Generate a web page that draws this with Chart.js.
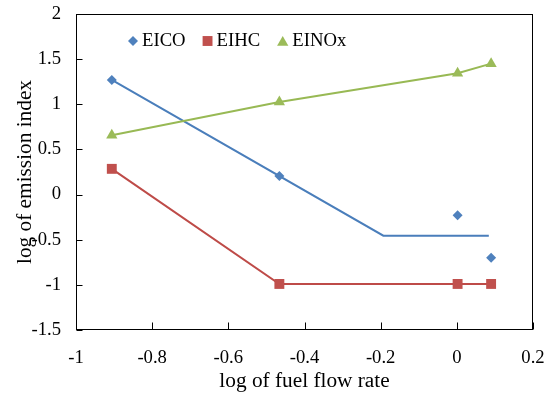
<!DOCTYPE html>
<html><head><meta charset="utf-8">
<script src="https://cdn.jsdelivr.net/npm/chart.js@4.4.1/dist/chart.umd.min.js"></script>
<style>html,body{margin:0;padding:0;background:#fff}#wrap{width:546px;height:398px}</style>
</head><body><div id="wrap"><canvas id="c" width="546" height="398"></canvas></div>
<script>
// ---- data ----
const xTickValues = [-1, -0.8, -0.6, -0.4, -0.2, 0, 0.2];
const yTickValues = [-1.5, -1, -0.5, 0, 0.5, 1, 1.5, 2];
const fuelFlowX = [-0.906, -0.466, 0.002, 0.09];
const eicoY = [1.27, 0.205, -0.23, -0.70];
const eihcY = [0.285, -0.99, -0.99, -0.99];
const einoxY = [0.657, 1.025, 1.343, 1.45];
const eicoFitX = [-0.906, -0.193, 0.084];
const eicoFitY = [1.27, -0.455, -0.455];
const seriesNames = ['EICO', 'EIHC', 'EINOx'];

const FONT = '"Liberation Serif", "Times New Roman", serif';
const pts = (xs, ys) => xs.map((x, i) => ({x: x, y: ys[i]}));

const datasets = [
  {label: 'EICO fit', data: pts(eicoFitX, eicoFitY), showLine: true, pointRadius: 0,
   borderColor: '#4A7EBB', borderWidth: 2, fill: false, order: 4},
  {label: seriesNames[1], data: pts(fuelFlowX, eihcY), showLine: true, pointStyle: 'rect', pointRadius: 7,
   backgroundColor: '#C0504D', pointBackgroundColor: '#C0504D', pointBorderColor: '#C0504D', pointBorderWidth: 0,
   borderColor: '#BE4B48', borderWidth: 2, order: 2},
  {label: seriesNames[2], data: pts(fuelFlowX, einoxY), showLine: true, pointStyle: 'triangle', pointRadius: 6.5,
   backgroundColor: '#9BBB59', pointBackgroundColor: '#9BBB59', pointBorderColor: '#9BBB59', pointBorderWidth: 0,
   borderColor: '#98B954', borderWidth: 2, order: 3},
  {label: seriesNames[0], data: pts(fuelFlowX, eicoY), showLine: false, pointStyle: 'rectRot', pointRadius: 5,
   backgroundColor: '#4F81BD', pointBackgroundColor: '#4F81BD', pointBorderColor: '#4F81BD', pointBorderWidth: 0,
   order: 1}
];
const legendOrder = [3, 1, 2];

const framePlugin = {
  id: 'frame',
  afterDatasetsDraw(chart) {
    const {ctx, chartArea: a, scales} = chart;
    ctx.save();
    ctx.strokeStyle = '#000';
    ctx.lineWidth = 1;
    const L = Math.round(a.left) + 0.5, R = Math.round(a.right) - 0.5;
    const T = Math.round(a.top) + 0.5, B = Math.round(a.bottom) - 0.5;
    ctx.strokeRect(L, T, R - L, B - T);
    ctx.beginPath();
    scales.x.ticks.forEach(t => {
      const px = Math.round(scales.x.getPixelForValue(t.value)) + 0.5;
      ctx.moveTo(px, B); ctx.lineTo(px, B - 7);
    });
    scales.y.ticks.forEach(t => {
      const py = Math.round(scales.y.getPixelForValue(t.value)) + 0.5;
      ctx.moveTo(L, py); ctx.lineTo(L + 6, py);
    });
    ctx.stroke();
    // legend inside plot area
    ctx.font = '18.7px ' + FONT;
    ctx.textBaseline = 'middle';
    ctx.textAlign = 'left';
    let x = a.left + 52;
    const y = a.top + 27;
    legendOrder.forEach(i => {
      const ds = chart.data.datasets[i];
      const r = ds.pointRadius;
      const hw = ds.pointStyle === 'triangle' ? r * 0.866 : (ds.pointStyle === 'rect' ? r * 0.707 : r);
      ctx.fillStyle = ds.pointBackgroundColor;
      ctx.strokeStyle = ds.pointBackgroundColor;
      Chart.helpers.drawPoint(ctx, {pointStyle: ds.pointStyle, radius: r, rotation: 0, borderWidth: 0},
        x + hw, ds.pointStyle === 'triangle' ? y + 1.5 : y);
      x += 2 * hw + 4;
      ctx.fillStyle = '#000';
      ctx.fillText(ds.label, x, y);
      x += ctx.measureText(ds.label).width + 17;
    });
    ctx.restore();
  }
};

new Chart(document.getElementById('c'), {
  type: 'scatter',
  data: {datasets: datasets},
  options: {
    responsive: false,
    animation: false,
    devicePixelRatio: 1,
    layout: {padding: {top: 14, right: 13, left: 0, bottom: 0}},
    elements: {line: {tension: 0}},
    plugins: {legend: {display: false}, tooltip: {enabled: false}},
    scales: {
      x: {
        type: 'linear', position: 'bottom', min: -1, max: 0.2,
        afterBuildTicks: s => { s.ticks = xTickValues.map(v => ({value: v})); },
        afterFit: s => { s.height = 68; s.paddingLeft = 0; s.paddingRight = 0; },
        ticks: {callback: v => String(v), color: '#000', font: {family: FONT, size: 18.7},
                padding: 17, maxRotation: 0, autoSkip: false},
        grid: {display: false, drawTicks: false},
        border: {display: false},
        title: {display: true, text: 'log of fuel flow rate', color: '#000',
                font: {family: FONT, size: 21.3}, padding: {top: 0, bottom: 4}}
      },
      y: {
        type: 'linear', position: 'left', min: -1.5, max: 2,
        afterBuildTicks: s => { s.ticks = yTickValues.map(v => ({value: v})); },
        afterFit: s => { s.width = 76; s.paddingTop = 0; s.paddingBottom = 0; },
        ticks: {callback: v => String(v), color: '#000', font: {family: FONT, size: 18.7},
                padding: 15, autoSkip: false},
        grid: {display: false, drawTicks: false},
        border: {display: false},
        title: {display: true, text: 'log of emission index', color: '#000',
                font: {family: FONT, size: 21.3}, padding: {top: 12.5, bottom: 0}}
      }
    }
  },
  plugins: [framePlugin]
});
</script></body></html>
